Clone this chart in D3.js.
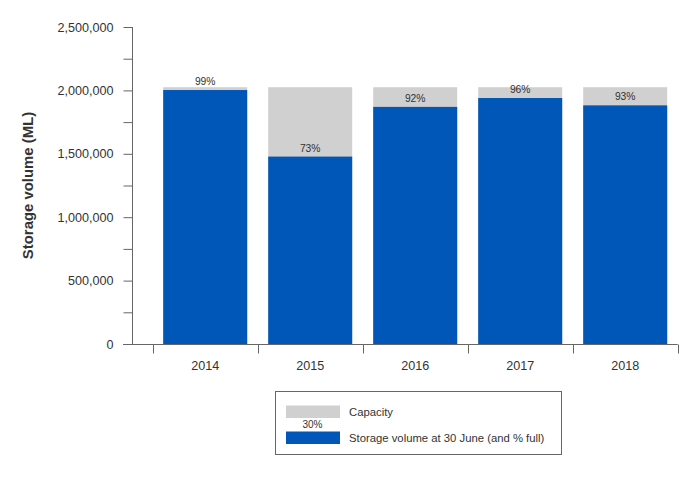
<!DOCTYPE html>
<html><head><meta charset="utf-8">
<script src="https://cdn.jsdelivr.net/npm/d3@7"></script>
<style>body{margin:0;background:#fff}svg{display:block;font-family:"Liberation Sans",Arial,sans-serif}</style>
</head><body><svg id="c" width="700" height="479"></svg>
<script>
const years = ["2014","2015","2016","2017","2018"];
const capacity = [2025000,2025000,2025000,2025000,2025000];
const storage = [2003000,1478000,1870000,1940000,1882000];
const pctFull = ["99%","73%","92%","96%","93%"];
const yTicks = [0,500000,1000000,1500000,2000000,2500000];
const yMinorTicks = [250000,750000,1250000,1750000,2250000];
const legendLabels = ["Capacity","Storage volume at 30 June (and % full)"];
const legendNote = "30%";

const svg = d3.select("#c");
const axisCol = "#666", textCol = "#333";
const x = d3.scaleBand().domain(years).range([152.7,677.7]).paddingInner(0.2).paddingOuter(0.1);
const y = d3.scaleLinear().domain([0,2500000]).range([344,27]);
const blue = "#0057b8", gray = "#d0d0d0";

// bars
const g = svg.append("g");
g.selectAll("rect.cap").data(years).join("rect").attr("class","cap")
  .attr("x",d=>x(d)).attr("width",x.bandwidth())
  .attr("y",(d,i)=>y(capacity[i])).attr("height",(d,i)=>y(0)-y(capacity[i]))
  .attr("fill",gray);
g.selectAll("rect.sto").data(years).join("rect").attr("class","sto")
  .attr("x",d=>x(d)).attr("width",x.bandwidth())
  .attr("y",(d,i)=>y(storage[i])).attr("height",(d,i)=>y(0)-y(storage[i]))
  .attr("fill",blue);
g.selectAll("text.pct").data(years).join("text").attr("class","pct")
  .attr("x",d=>x(d)+x.bandwidth()/2).attr("y",(d,i)=>y(storage[i])-5)
  .attr("text-anchor","middle").attr("font-size",10.3).attr("fill",textCol)
  .text((d,i)=>pctFull[i]);

// y axis
const ya = svg.append("g").attr("transform","translate(132.5,0)")
  .call(d3.axisLeft(y).tickValues(yTicks).tickFormat(d3.format(",")).tickSize(9).tickPadding(10));
ya.append("g").call(d3.axisLeft(y).tickValues(yMinorTicks).tickFormat("").tickSize(9))
  .select(".domain").remove();
ya.selectAll(".domain").attr("d","M0,27V344");
ya.selectAll("path,line").attr("stroke",axisCol);
ya.selectAll("text").attr("font-size",12.6).attr("fill",textCol).attr("font-family","Liberation Sans, Arial, sans-serif");

// x axis
const xa = svg.append("g").attr("transform","translate(0,344.5)")
  .call(d3.axisBottom(x).tickSize(0).tickPadding(17));
xa.select(".domain").attr("d","M123,0H677.7").attr("stroke",axisCol);
xa.selectAll("text").attr("font-size",12.6).attr("fill",textCol).attr("font-family","Liberation Sans, Arial, sans-serif");
const bounds = years.map(d=>x(d)-x.step()*x.paddingInner()/2).concat([x(years[years.length-1])+x.bandwidth()+x.step()*x.paddingInner()/2]);
xa.selectAll("line.b").data(bounds).join("line").attr("class","b")
  .attr("x1",d=>Math.round(d)+0.5).attr("x2",d=>Math.round(d)+0.5).attr("y1",0).attr("y2",9).attr("stroke",axisCol);

// y title
svg.append("text").attr("transform","translate(32.5,185.5) rotate(-90)")
  .attr("text-anchor","middle").attr("font-size",14.9).attr("font-weight","bold").attr("fill",textCol)
  .text("Storage volume (ML)");

// legend
const lg = svg.append("g");
lg.append("rect").attr("x",275.5).attr("y",391.5).attr("width",286).attr("height",63)
  .attr("fill","#fff").attr("stroke",axisCol);
const lcols = [gray, blue], ly = [405.5, 431.5];
legendLabels.forEach((t,i)=>{
  lg.append("rect").attr("x",286).attr("y",ly[i]).attr("width",54).attr("height",12.5).attr("fill",lcols[i]);
  lg.append("text").attr("x",349).attr("y",ly[i]+10).attr("font-size",11.3).attr("fill",textCol).text(t);
});
lg.append("text").attr("x",312.5).attr("y",427.5).attr("text-anchor","middle").attr("font-size",10).attr("fill",textCol).text(legendNote);
</script></body></html>
